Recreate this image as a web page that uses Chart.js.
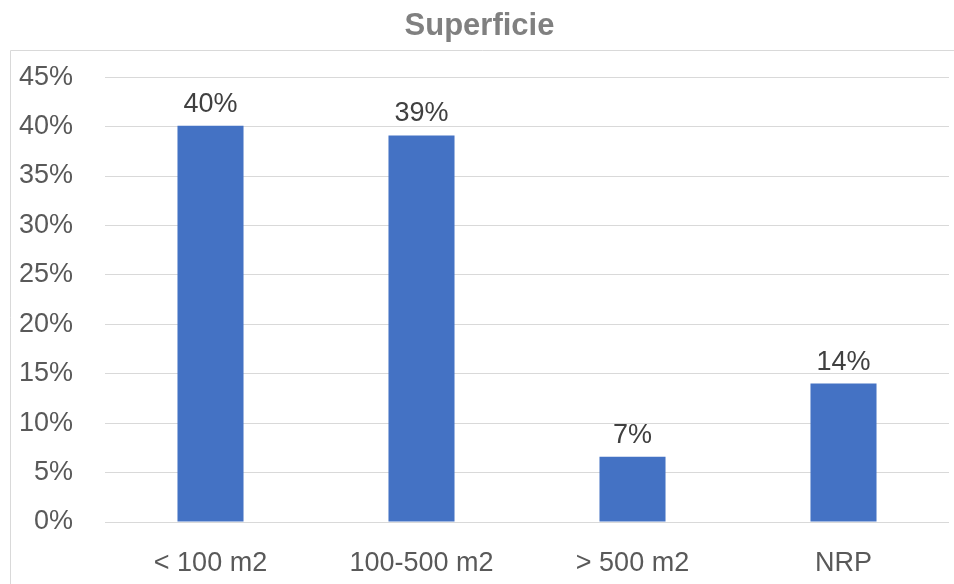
<!DOCTYPE html>
<html>
<head>
<meta charset="utf-8">
<script src="https://cdn.jsdelivr.net/npm/chart.js@4/dist/chart.umd.min.js"></script>
<style>
  html, body { margin: 0; padding: 0; background: #fff; }
  #wrap { width: 954px; height: 584px; }
</style>
</head>
<body>
<div id="wrap"><canvas id="chart"></canvas></div>
<script>
// données
const categories = ['< 100 m2', '100-500 m2', '> 500 m2', 'NRP'];
const shares = [0.401, 0.391, 0.066, 0.14];
const yTickLabels = ['0%', '5%', '10%', '15%', '20%', '25%', '30%', '35%', '40%', '45%'];

const FONT = '"Liberation Sans", Arial, sans-serif';

// cadre gris du graphique
const framePlugin = {
    id: 'frame',
    beforeDraw(chart) {
        const ctx = chart.ctx;
        ctx.save();
        ctx.strokeStyle = '#d9d9d9';
        ctx.lineWidth = 1;
        ctx.beginPath();
        ctx.moveTo(10.5, chart.height);
        ctx.lineTo(10.5, 50.5);
        ctx.lineTo(chart.width, 50.5);
        ctx.stroke();
        ctx.restore();
    }
};

// étiquettes de valeur au-dessus des barres
const valueLabels = {
    id: 'valueLabels',
    afterDatasetsDraw(chart) {
        const ctx = chart.ctx;
        const meta = chart.getDatasetMeta(0);
        ctx.save();
        ctx.font = '27px ' + FONT;
        ctx.fillStyle = '#404040';
        ctx.textAlign = 'center';
        ctx.textBaseline = 'bottom';
        meta.data.forEach(function(bar, i) {
            ctx.fillText(Math.round(shares[i] * 100) + '%', bar.x, bar.y - 8);
        });
        ctx.restore();
    }
};

new Chart(document.getElementById('chart'), {
    type: 'bar',
    data: {
        labels: categories,
        datasets: [{
            data: shares,
            backgroundColor: '#4472c4',
            categoryPercentage: 1,
            barPercentage: 0.313
        }]
    },
    options: {
        responsive: true,
        maintainAspectRatio: false,
        animation: false,
        layout: { padding: { left: 10, right: 5, top: 0, bottom: 6 } },
        plugins: {
            legend: { display: false },
            tooltip: { enabled: false },
            title: {
                display: true,
                text: 'Superficie',
                color: '#808080',
                font: { family: FONT, size: 31, weight: 'bold' },
                padding: { top: 8, bottom: 32 }
            }
        },
        scales: {
            x: {
                afterFit(scale) { scale.height = 56; },
                grid: { display: false },
                border: { display: false },
                ticks: {
                    color: '#595959',
                    font: { family: FONT, size: 27 },
                    padding: 17,
                    maxRotation: 0
                }
            },
            y: {
                min: 0,
                max: 0.45,
                afterFit(scale) { scale.width = 95; },
                grid: { color: '#d9d9d9', lineWidth: 1, drawTicks: false },
                border: { display: false },
                ticks: {
                    stepSize: 0.05,
                    color: '#595959',
                    font: { family: FONT, size: 27 },
                    padding: 32,
                    callback: function(v, i) { return yTickLabels[i]; }
                }
            }
        }
    },
    plugins: [framePlugin, valueLabels]
});
</script>
</body>
</html>
